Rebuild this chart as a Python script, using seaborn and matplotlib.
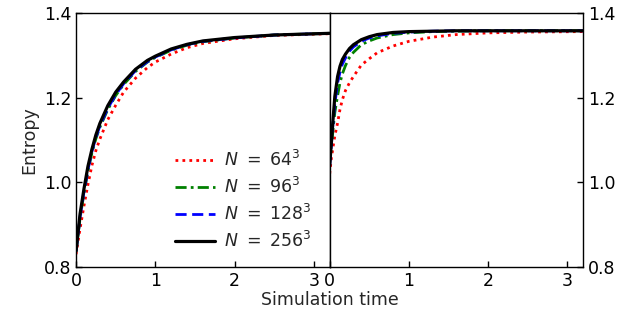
import numpy as np
import pandas as pd
import seaborn as sns
import matplotlib
matplotlib.use("Agg")
import matplotlib.pyplot as plt

# ---- data ----
labels = [r"$N\ =\ 64^3$", r"$N\ =\ 96^3$", r"$N\ =\ 128^3$", r"$N\ =\ 256^3$"]

t_left = [0.0, 0.05, 0.1, 0.15, 0.2, 0.25, 0.3, 0.4, 0.5, 0.6, 0.75, 0.9, 1.0, 1.2, 1.4, 1.6, 2.0, 2.5, 3.2]
left_64 = [0.83, 0.89, 0.945, 0.995, 1.04, 1.075, 1.102, 1.148, 1.182, 1.213, 1.246, 1.271, 1.284, 1.303, 1.318, 1.328, 1.339, 1.347, 1.351]
left_96 = [0.836, 0.915, 0.975, 1.026, 1.07, 1.103, 1.13, 1.172, 1.205, 1.231, 1.262, 1.284, 1.295, 1.312, 1.324, 1.332, 1.341, 1.348, 1.352]
left_128 = [0.837, 0.918, 0.978, 1.03, 1.073, 1.106, 1.133, 1.175, 1.207, 1.233, 1.264, 1.285, 1.296, 1.313, 1.325, 1.333, 1.341, 1.348, 1.352]
left_256 = [0.838, 0.925, 0.985, 1.038, 1.078, 1.112, 1.139, 1.181, 1.213, 1.237, 1.267, 1.288, 1.298, 1.315, 1.326, 1.334, 1.342, 1.348, 1.352]

t_right = [0.0, 0.02, 0.04, 0.065, 0.1, 0.13, 0.16, 0.2, 0.25, 0.3, 0.4, 0.5, 0.6, 0.8, 1.0, 1.3, 1.6, 2.0, 2.5, 3.2]
right_64 = [1.02, 1.055, 1.08, 1.11, 1.14, 1.172, 1.195, 1.217, 1.235, 1.25, 1.277, 1.292, 1.306, 1.322, 1.333, 1.343, 1.349, 1.353, 1.355, 1.356]
right_96 = [1.05, 1.08, 1.12, 1.165, 1.205, 1.235, 1.256, 1.276, 1.295, 1.307, 1.325, 1.334, 1.341, 1.349, 1.353, 1.356, 1.357, 1.358, 1.358, 1.358]
right_128 = [1.04, 1.085, 1.135, 1.185, 1.235, 1.26, 1.279, 1.294, 1.31, 1.32, 1.333, 1.341, 1.346, 1.352, 1.355, 1.357, 1.358, 1.358, 1.358, 1.358]
right_256 = [1.04, 1.09, 1.143, 1.203, 1.25, 1.274, 1.29, 1.303, 1.316, 1.325, 1.337, 1.344, 1.349, 1.354, 1.356, 1.357, 1.358, 1.358, 1.358, 1.358]

colors = ["red", "green", "blue", "black"]
styles = [(0, (1, 1.5)), (0, (4, 1.5, 1, 1.5)), (0, (4, 2)), "solid"]
widths = [2.0, 2.0, 2.0, 2.3]

sns.set_style("white")
plt.rcParams["font.family"] = ["DejaVu Sans"]
plt.rcParams["mathtext.fontset"] = "dejavusans"

fig = plt.figure(figsize=(6.34, 3.17), dpi=100)
axL = fig.add_axes([0.12, 0.158, 0.4, 0.801])
axR = fig.add_axes([0.52, 0.158, 0.3996, 0.801])

def make_df(t, series):
    rows = []
    for lab, vals in zip(labels, series):
        for x, y in zip(t, vals):
            rows.append({"t": x, "S": y, "N": lab})
    return pd.DataFrame(rows)

dfL = make_df(t_left, [left_64, left_96, left_128, left_256])
dfR = make_df(t_right, [right_64, right_96, right_128, right_256])

for ax, df in [(axL, dfL), (axR, dfR)]:
    for lab, c, ls, lw in zip(labels, colors, styles, widths):
        sub = df[df["N"] == lab]
        sns.lineplot(data=sub, x="t", y="S", ax=ax, color=c, linestyle=ls,
                     linewidth=lw, label=lab, legend=False)
    ax.set_xlim(0, 3.2)
    ax.set_ylim(0.8, 1.4)
    ax.set_xticks([0, 1, 2, 3])
    ax.set_yticks([0.8, 1.0, 1.2, 1.4])
    ax.set_xlabel("")
    ax.set_ylabel("")
    for sp in ax.spines.values():
        sp.set_color("black")
        sp.set_linewidth(1.0)
    ax.tick_params(direction="in", length=4, width=1, labelsize=12.5, colors="black")

axL.tick_params(axis="y", left=True, right=False)
axL.tick_params(axis="x", bottom=True)
axR.yaxis.tick_right()
axR.tick_params(axis="y", right=True, left=False, labelright=True, labelleft=False)
axR.tick_params(axis="x", bottom=True)
axL.set_ylabel("Entropy", fontsize=12.5)
fig.text(0.52, 0.025, "Simulation time", ha="center", va="bottom", fontsize=12.5)

h, l = axL.get_legend_handles_labels()
axL.legend(h, l, loc="lower left", bbox_to_anchor=(0.33, 0.0), frameon=False,
           fontsize=12.5, handlelength=2.3, labelspacing=0.4, handletextpad=0.5)

fig.savefig("out.png", dpi=100)
